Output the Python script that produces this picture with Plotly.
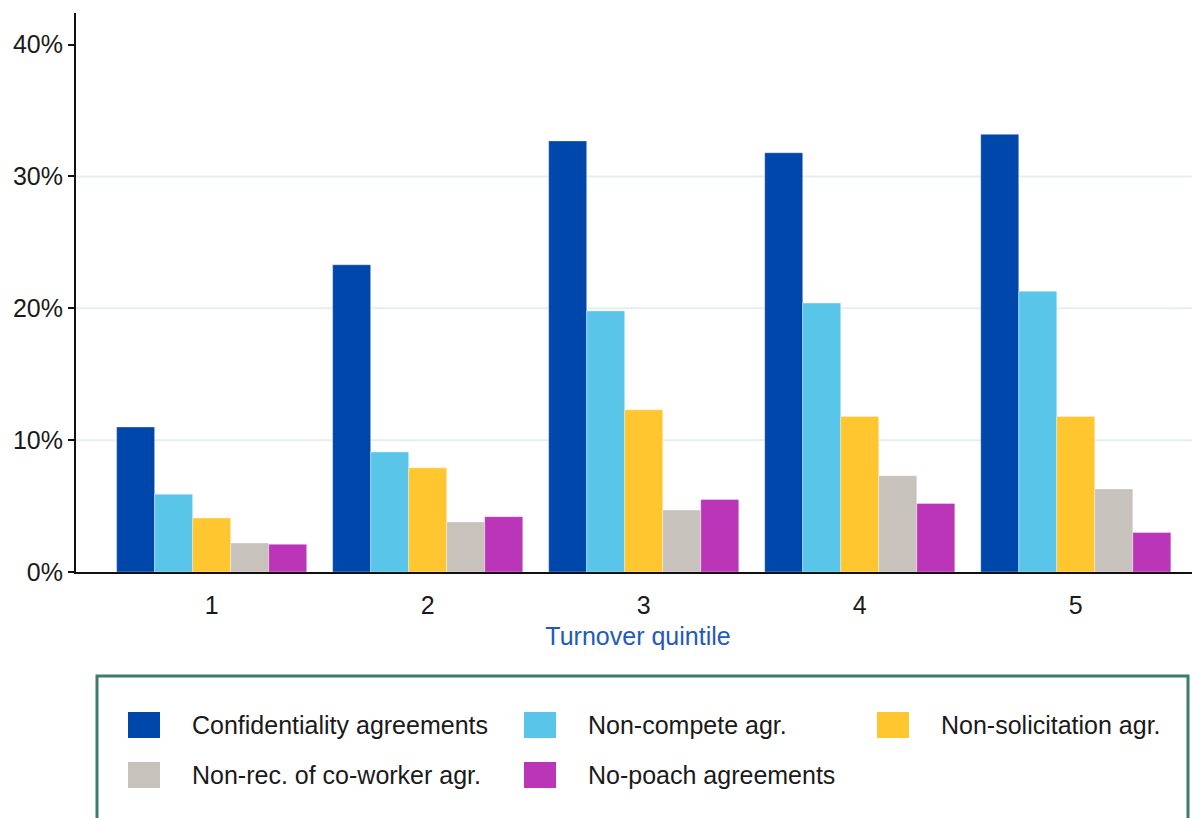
import plotly.graph_objects as go

# data
quintiles = ["1", "2", "3", "4", "5"]
series_names = [
    "Confidentiality agreements",
    "Non-compete agr.",
    "Non-solicitation agr.",
    "Non-rec. of co-worker agr.",
    "No-poach agreements",
]
confidentiality = [0.110, 0.233, 0.327, 0.318, 0.332]
non_compete = [0.059, 0.091, 0.198, 0.204, 0.213]
non_solicitation = [0.041, 0.079, 0.123, 0.118, 0.118]
non_recruit = [0.022, 0.038, 0.047, 0.073, 0.063]
no_poach = [0.021, 0.042, 0.055, 0.052, 0.030]
series_values = [confidentiality, non_compete, non_solicitation, non_recruit, no_poach]
y_ticks = [0, 0.1, 0.2, 0.3, 0.4]

colors = ["#0047AB", "#58C5E9", "#FFC62F", "#C7C2BB", "#BA35B8"]
font_family = "Liberation Sans, Arial, sans-serif"

# the page body adds an 8px offset, so the figure is a bit smaller than the window
OFF = 8
W, H = 1192, 810
margin = dict(l=68, r=0, t=5, b=246)
plot_w = W - margin["l"] - margin["r"]
plot_h = H - margin["t"] - margin["b"]


def px_x(px):
    # page pixel -> paper coordinate
    return (px - OFF - margin["l"]) / plot_w


def px_y(py):
    return (H - margin["b"] - (py - OFF)) / plot_h


fig = go.Figure()
for name, vals, col in zip(series_names, series_values, colors):
    fig.add_trace(go.Bar(
        x=quintiles, y=vals, name=name,
        marker=dict(color=col, line=dict(color="rgba(255,255,255,0.6)", width=0.6)),
        showlegend=False,
    ))

# light gridlines (none at the top tick)
for t in y_ticks[1:-1]:
    fig.add_hline(y=t, line=dict(color="#E4EFEE", width=2), layer="below")

fig.update_layout(
    width=W, height=H,
    margin=margin,
    barmode="group",
    bargap=0.12,
    bargroupgap=0,
    paper_bgcolor="white",
    plot_bgcolor="white",
    font=dict(family=font_family, size=25, color="#1a1a1a"),
)
fig.update_xaxes(
    type="category",
    range=[-0.628, 4.575],
    showline=True, linecolor="#111", linewidth=2,
    ticks="", showgrid=False,
    ticklabelstandoff=10,
    tickfont=dict(size=25, color="#1a1a1a"),
    title=dict(text="Turnover quintile", font=dict(size=25, color="#2159BE"), standoff=9),
)
fig.update_yaxes(
    range=[0, 0.424],
    tickvals=y_ticks, tickformat=".0%",
    showline=True, linecolor="#111", linewidth=2,
    ticks="outside", ticklen=6, tickcolor="#111", tickwidth=1.5,
    showgrid=False, zeroline=False,
    tickfont=dict(size=25, color="#1a1a1a"),
)

# legend drawn as a framed box below the chart
fig.add_shape(
    type="rect", xref="paper", yref="paper",
    x0=px_x(97), x1=px_x(1188), y0=px_y(676), y1=px_y(830),
    line=dict(color="#3E7B71", width=3), fillcolor="rgba(0,0,0,0)",
)
col_x = [128, 524, 877]
row_y = [725, 775]
for i, (name, col) in enumerate(zip(series_names, colors)):
    cx = col_x[i % 3]
    cy = row_y[i // 3]
    fig.add_shape(
        type="rect", xref="paper", yref="paper",
        x0=px_x(cx), x1=px_x(cx + 32), y0=px_y(cy - 13), y1=px_y(cy + 13),
        line=dict(color=col, width=0), fillcolor=col,
    )
    fig.add_annotation(
        x=px_x(cx + 62), y=px_y(cy), xref="paper", yref="paper",
        text=name, showarrow=False, xanchor="left", yanchor="middle",
        font=dict(family=font_family, size=25, color="#1a1a1a"),
    )

fig.write_html("out.html")
